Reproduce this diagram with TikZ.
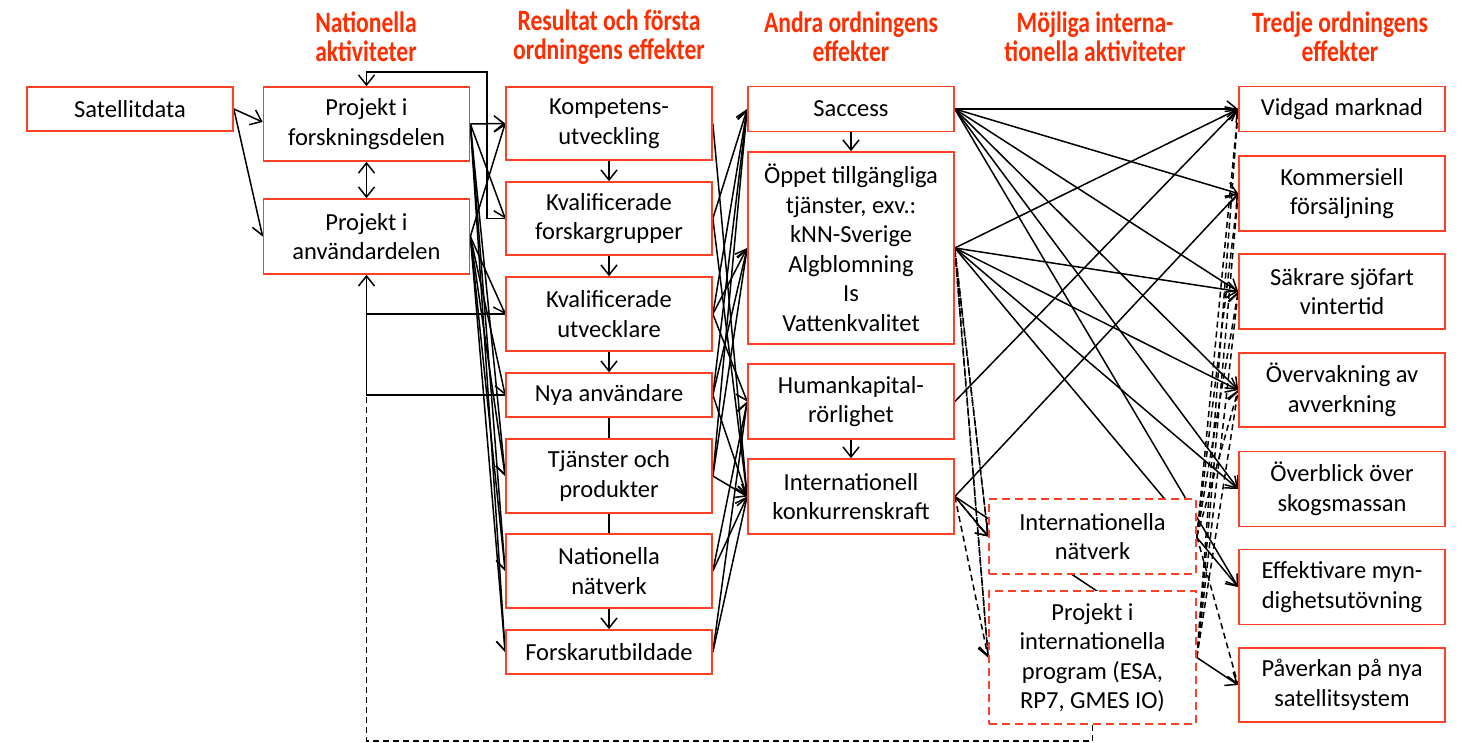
\documentclass[tikz,border=0pt]{standalone}
\usepackage{fontspec}
\setmainfont{Carlito}
\newfontfamily\hdfont[FakeStretch=0.8]{Carlito}
\usetikzlibrary{arrows.meta,backgrounds,calc}
\definecolor{boxred}{RGB}{255,64,38}
\definecolor{hdred}{RGB}{255,45,0}
\begin{document}
\begin{tikzpicture}[x=1pt,y=-1pt,
  box/.style={draw=boxred, line width=1.7pt, fill=white, inner sep=0pt, align=center,
              font=\fontsize{24.5}{29.5}\selectfont, text=black, minimum width=206pt},
  dbox/.style={box, dash pattern=on 8pt off 5pt},
  hd/.style={font=\hdfont\bfseries\fontsize{29.5}{29}\selectfont, text=hdred, align=center},
  plain/.style={line width=1.5pt},
  arr/.style={line width=1.5pt, -{Straight Barb[length=10pt,width=16pt]}},
  darr/.style={arr, dash pattern=on 6pt off 4pt},
  dplain/.style={plain, dash pattern=on 6pt off 4pt},
  biarr/.style={line width=1.5pt, {Straight Barb[length=10pt,width=16pt]}-{Straight Barb[length=10pt,width=16pt]}}
]
\useasboundingbox (0,0) rectangle (1462,742);
% headers
\node[hd] (h1) at (366,37) {Nationella\\aktiviteter};
\node[hd] (h2) at (609,37) {Resultat och första\\ordningens effekter};
\node[hd] (h3) at (851,37) {Andra ordningens\\effekter};
\node[hd] (h4) at (1095,37) {Möjliga interna-\\tionella aktiviteter};
\node[hd] (h5) at (1340,37) {Tredje ordningens\\effekter};
% column 1-2
\node[box, minimum height=44pt] (sat) at (130,109) {Satellitdata};
\node[box, minimum height=74pt] (forsk) at (366.5,124) {Projekt i\\forskningsdelen};
\node[box, minimum height=75pt] (anv) at (366.5,236.5) {Projekt i\\användardelen};
% column 3
\node[box, minimum height=73pt] (komp) at (609,123.5) {Kompetens-\\utveckling};
\node[box, minimum height=73pt] (kvf) at (609,218.5) {Kvalificerade\\forskargrupper};
\node[box, minimum height=74pt] (kvu) at (609,314) {Kvalificerade\\utvecklare};
\node[box, minimum height=44pt] (nya) at (609,395) {Nya användare};
\node[box, minimum height=74pt] (tja) at (609,476) {Tjänster och\\produkter};
\node[box, minimum height=74pt] (nat) at (609,571) {Nationella\\nätverk};
\node[box, minimum height=44pt] (fu) at (609,652) {Forskarutbildade};
% column 4
\node[box, minimum height=45pt] (sac) at (851,109) {Saccess};
\node[box, minimum height=192pt] (opp) at (851,248) {Öppet tillgängliga\\tjänster, exv.:\\kNN-Sverige\\Algblomning\\Is\\Vattenkvalitet};
\node[box, minimum height=75pt] (hum) at (851,401.5) {Humankapital-\\rörlighet};
\node[box, minimum height=75pt] (ik) at (851,496.5) {Internationell\\konkurrenskraft};
% column 5
\node[dbox, minimum width=207pt, minimum height=75pt] (intnat) at (1092.5,536.5) {Internationella\\nätverk};
\node[dbox, minimum width=207pt, minimum height=133pt] (intprog) at (1092.5,657.5) {Projekt i\\internationella\\program (ESA,\\RP7, GMES IO)};
% column 6
\node[box, minimum height=45pt] (vid) at (1342,109) {Vidgad marknad};
\node[box, minimum height=75pt] (kom) at (1342,193.5) {Kommersiell\\försäljning};
\node[box, minimum height=75pt] (sak) at (1342,291.5) {Säkrare sjöfart\\vintertid};
\node[box, minimum height=74pt] (ovk) at (1342,390) {Övervakning av\\avverkning};
\node[box, minimum height=75pt] (ovb) at (1342,489) {Överblick över\\skogsmassan};
\node[box, minimum height=75pt] (eff) at (1342,587) {Effektivare myn-\\dighetsutövning};
\node[box, minimum height=74pt] (pav) at (1342,685) {Påverkan på nya\\satellitsystem};

\begin{pgfonlayer}{background}
% col1 -> col2
\draw[arr] (sat.east) -- ($(forsk.west)+(0,-2)$);
\draw[arr] (sat.east) -- (anv.west);
\draw[biarr] (forsk) -- (anv);
% feedback loops
\coordinate (lp) at (487,72);
\draw[arr] (kvf.west) -| (lp) -| (forsk.north);
\coordinate (fb) at (nya.west -| anv.south);
\draw[arr] (nya.west) -| (anv.south);
\draw[plain] (kvu.west) -- (kvu.west -| anv.south);
\draw[dplain] (intprog.south) -- ++(0,16) -| (fb);
% col2 -> col3
\foreach \t in {komp,kvf,tja,nat,fu} \draw[arr] (forsk.east) -- (\t.west);
\foreach \t in {komp,kvu,nya,tja,nat,fu} \draw[arr] (anv.east) -- (\t.west);
% col3 internal
\draw[arr] (komp) -- (kvf);
\draw[arr] (kvf) -- (kvu);
\draw[arr] (kvu) -- (nya);
\draw[plain] (nya) -- (tja);
\draw[plain] (tja) -- (nat);
\draw[arr] (nat) -- (fu);
% col3 -> col4
\draw[arr] (komp.east) -- (ik.west);
\foreach \t in {sac,ik} \draw[arr] (kvf.east) -- (\t.west);
\foreach \t in {sac,opp,hum} \draw[arr] (kvu.east) -- (\t.west);
\foreach \t in {sac,opp,ik} \draw[arr] (nya.east) -- (\t.west);
\foreach \t in {sac,opp,ik} \draw[arr] (tja.east) -- (\t.west);
\foreach \t in {hum,ik} \draw[arr] (nat.east) -- (\t.west);
\foreach \t in {hum,ik} \draw[arr] (fu.east) -- (\t.west);
% col4 internal
\draw[arr] (sac) -- (opp);
\draw[arr] (hum) -- (ik);
% col4 -> col6
\foreach \t in {vid,kom,sak,ovk,ovb,eff} \draw[arr] (sac.east) -- (\t.west);
\foreach \t in {vid,sak,ovk,ovb,eff} \draw[arr] (opp.east) -- (\t.west);
\draw[arr] (hum.east) -- (vid.west);
\draw[arr] (ik.east) -- (kom.west);
\draw[arr] (ik.east) -- (pav.west);
\draw[arr] (ik.east) -- (intnat.west);
% dashed to col5
\draw[darr] (opp.east) -- (intnat.west);
\draw[darr] ($(opp.east)+(0,3)$) -- (intnat.west);
\draw[darr] (opp.east) -- (intprog.west);
\draw[darr] ($(opp.east)+(0,3)$) -- (intprog.west);
\draw[darr] (ik.east) -- (intnat.west);
\draw[darr] (ik.east) -- (intprog.west);
% dashed col5 -> col6
\foreach \t in {vid,kom,sak,ovk} {
  \draw[darr] (intnat.east) -- (\t.west);
  \draw[darr] (intprog.east) -- (\t.west);
}
\draw[darr] (intnat.east) -- (pav.west);
\end{pgfonlayer}
\end{tikzpicture}
\end{document}
